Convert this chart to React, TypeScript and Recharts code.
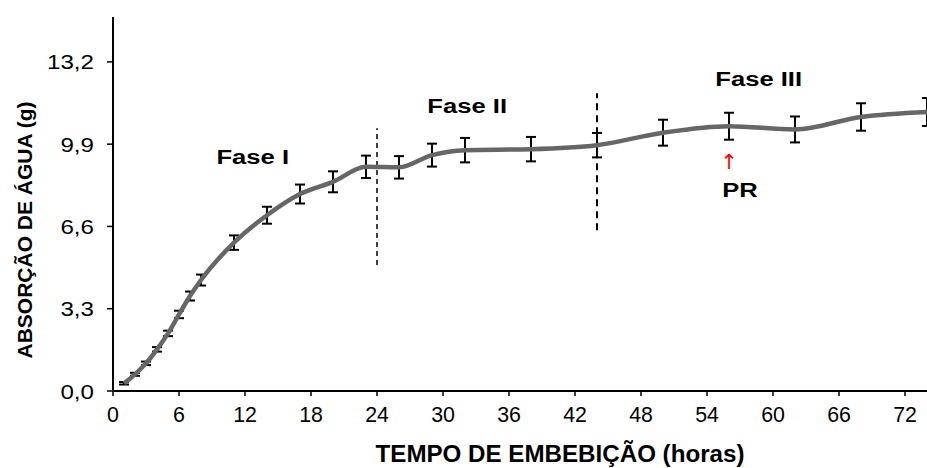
import React from 'react';
import {
  LineChart,
  Line,
  XAxis,
  YAxis,
  ErrorBar,
  ReferenceLine,
  ReferenceDot,
  Label
} from 'recharts';

// hours of imbibition and mean water absorption (g) with the error half-widths
const hours = [1, 2, 3, 4, 5, 6, 7, 8, 11, 14, 17, 20, 23, 26, 29, 32, 38, 44, 50, 56, 62, 68, 74];
const absorption = [0.31, 0.67, 1.11, 1.67, 2.31, 3.07, 3.81, 4.45, 5.95, 7.05, 7.9, 8.39, 8.99, 8.97, 9.46, 9.66, 9.7, 9.86, 10.36, 10.62, 10.49, 10.99, 11.19];
const errors = [0.05, 0.06, 0.07, 0.09, 0.11, 0.15, 0.18, 0.22, 0.29, 0.34, 0.38, 0.42, 0.45, 0.45, 0.46, 0.49, 0.49, 0.49, 0.52, 0.54, 0.52, 0.55, 0.56];

const xTicks = [0, 6, 12, 18, 24, 30, 36, 42, 48, 54, 60, 66, 72];
const yTicks = [0, 3.3, 6.6, 9.9, 13.2];

// phase boundaries: hour, bottom and top of the dashed line
const phaseLines = [
  { x: 24, y1: 5.05, y2: 10.54 },
  { x: 44, y1: 6.45, y2: 11.94 }
];

const phaseNotes = [
  { text: 'Fase I', x: 12.7, y: 9.4 },
  { text: 'Fase II', x: 32.2, y: 11.45 },
  { text: 'Fase III', x: 58.7, y: 12.52 },
  { text: 'PR', x: 57.0, y: 8.1 }
];

const data = hours.map((h, i) => ({ h, v: absorption[i], err: errors[i] }));

const FONT = '"Liberation Sans", Arial, sans-serif';

const fmt = (v: number) => v.toFixed(1).replace('.', ',');

const XTick = ({ x, y, payload }: any) => (
  <text
    transform={`translate(${x},${y}) scale(0.97,1)`}
    textAnchor="middle"
    dy={16}
    fill="#000"
    fontSize={22}
    fontFamily={FONT}
  >
    {payload.value}
  </text>
);

const YTick = ({ x, y, payload }: any) => (
  <text
    transform={`translate(${x},${y}) scale(1.15,1)`}
    textAnchor="end"
    dy={7.5}
    fill="#000"
    fontSize={21}
    fontFamily={FONT}
  >
    {fmt(payload.value)}
  </text>
);

const noteLabel = (text: string, color: string, size: number, sx: number) => (props: any) => {
  const vb = props.viewBox;
  const cx = vb.x + vb.width / 2;
  const cy = vb.y + vb.height / 2;
  return (
    <text
      transform={`translate(${cx},${cy}) scale(${sx},1)`}
      textAnchor="middle"
      dy={size * 0.36}
      fill={color}
      fontSize={size}
      fontWeight="bold"
      fontFamily={FONT}
    >
      {text}
    </text>
  );
};

const App: React.FC = () => {
  return (
    <div style={{ position: 'absolute', left: 0, top: 0, width: 927, height: 468, background: '#fff' }}>
      <LineChart
        width={927}
        height={468}
        data={data}
        margin={{ top: 17, right: 0, left: 0, bottom: 0 }}
      >
        <XAxis
          dataKey="h"
          type="number"
          domain={[0, 74]}
          ticks={xTicks}
          interval={0}
          height={77}
          axisLine={{ stroke: '#000', strokeWidth: 2 }}
          tickLine={{ stroke: '#000', strokeWidth: 1.5 }}
          tickSize={5}
          tickMargin={10}
          tick={<XTick />}
        >
          <Label
            content={({ viewBox }: any) => (
              <text
                transform={`translate(560,${viewBox.y + 71}) scale(1.05,1)`}
                textAnchor="middle"
                fill="#000"
                fontSize={23}
                fontWeight="bold"
                fontFamily={FONT}
              >
                TEMPO DE EMBEBIÇÃO (horas)
              </text>
            )}
          />
        </XAxis>
        <YAxis
          type="number"
          domain={[0, 15]}
          ticks={yTicks}
          interval={0}
          width={113}
          axisLine={{ stroke: '#000', strokeWidth: 2 }}
          tickLine={{ stroke: '#000', strokeWidth: 1.5 }}
          tickSize={6}
          tickMargin={13}
          tick={<YTick />}
        >
          <Label
            content={() => (
              <text
                transform="translate(24,230) rotate(-90)"
                textAnchor="middle"
                dominantBaseline="central"
                fill="#000"
                fontSize={21}
                fontWeight="bold"
                fontFamily={FONT}
              >
                ABSORÇÃO DE ÁGUA (g)
              </text>
            )}
          />
        </YAxis>

        {phaseLines.map((p, i) => (
          <ReferenceLine
            key={'pl' + i}
            segment={[{ x: p.x, y: p.y1 }, { x: p.x, y: p.y2 }]}
            stroke="#000"
            strokeWidth={i === 0 ? 1.5 : 2}
            strokeDasharray={i === 0 ? '5 4' : '7 5'}
          />
        ))}

        {phaseNotes.map((n) => (
          <ReferenceDot
            key={n.text}
            x={n.x}
            y={n.y}
            r={0}
            stroke="none"
            fill="none"
            label={noteLabel(n.text, '#000', 21, 1.22)}
          />
        ))}

        <ReferenceDot
          x={56}
          y={9.22}
          r={0}
          stroke="none"
          fill="none"
          label={{
            value: '↑',
            position: 'center',
            fill: '#ff0000',
            fontSize: 21,
            fontFamily: '"DejaVu Sans", sans-serif'
          }}
        />

        <Line
          type="monotone"
          dataKey="v"
          stroke="#666666"
          strokeWidth={4.5}
          dot={false}
          isAnimationActive={false}
        >
          <ErrorBar dataKey="err" direction="y" width={5} stroke="#000" strokeWidth={2} isAnimationActive={false} />
        </Line>
      </LineChart>
    </div>
  );
};

export default App;
